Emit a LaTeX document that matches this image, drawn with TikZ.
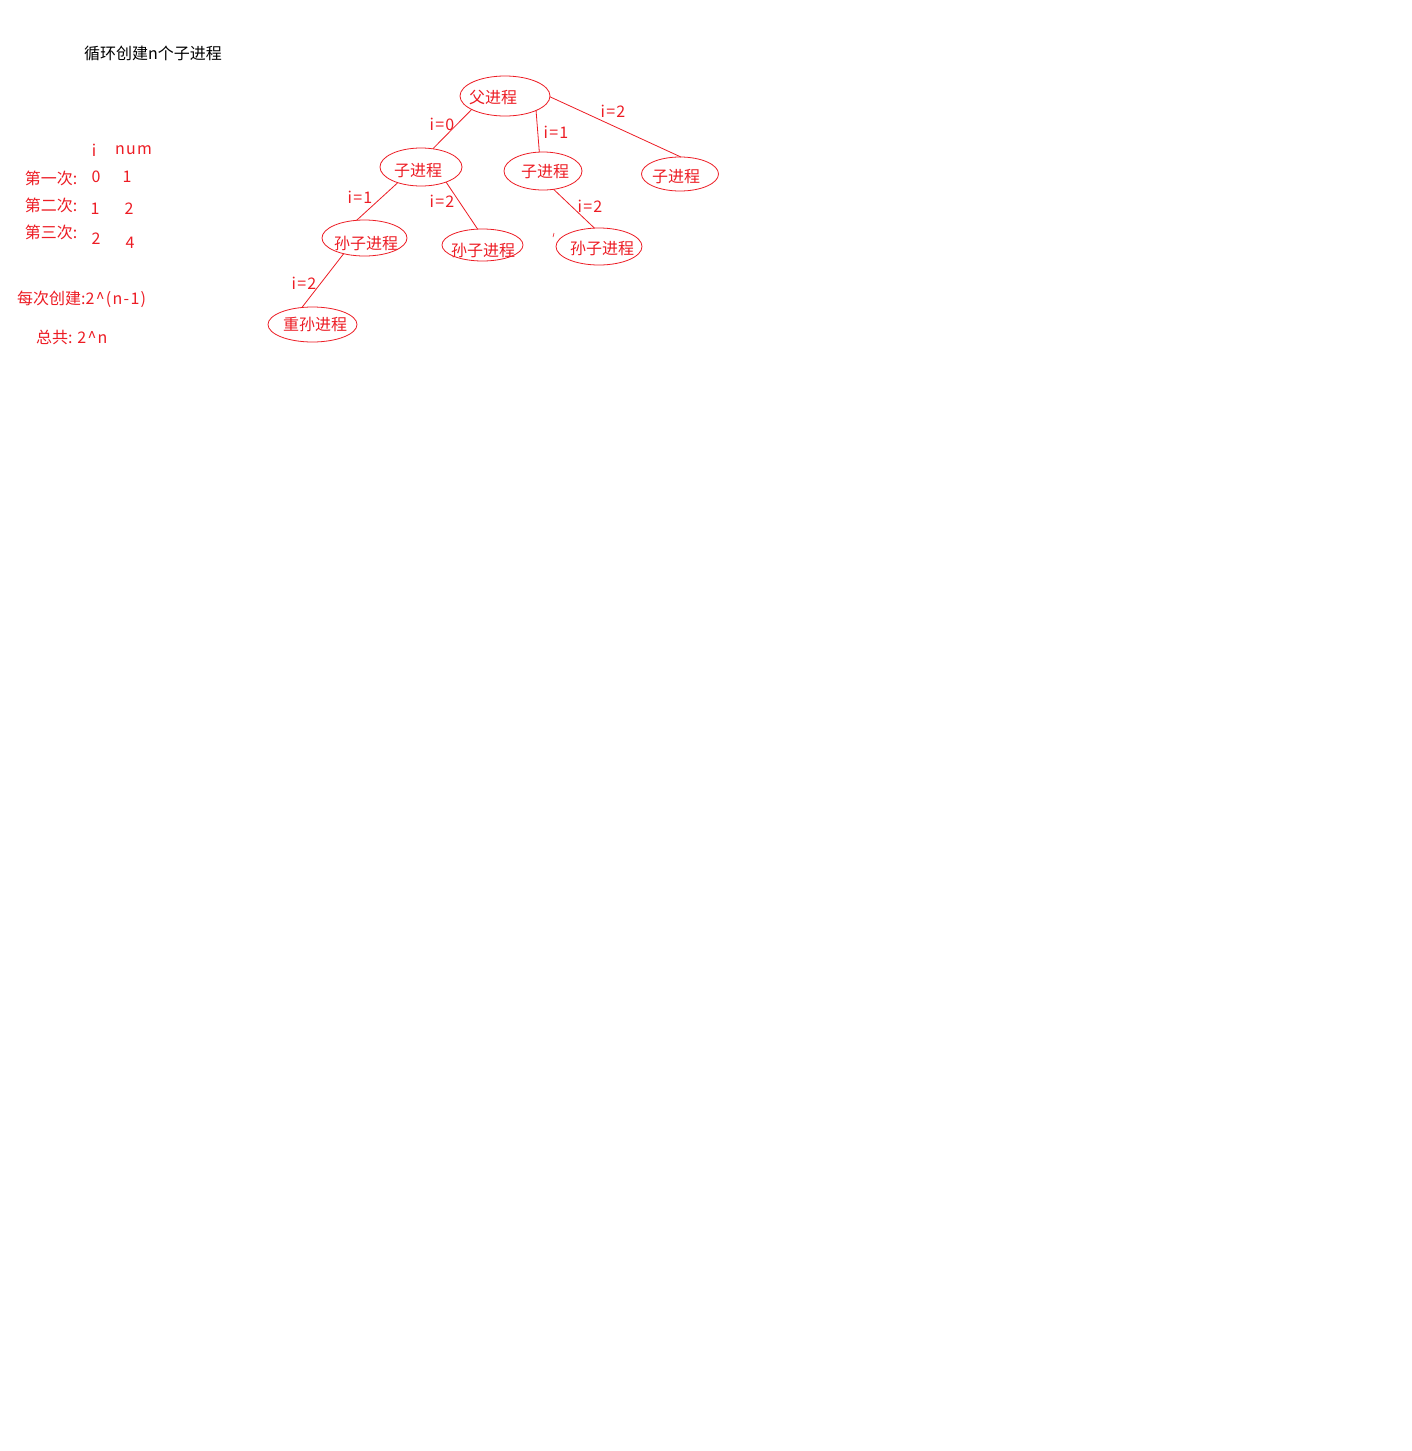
\documentclass[tikz,border=0pt]{standalone}
\usepackage{fontspec}
\setmainfont{Noto Sans CJK SC}
\newfontfamily\latfont[LetterSpace=8]{Noto Sans CJK SC}
\usetikzlibrary{shapes.geometric}
\definecolor{pred}{RGB}{237,28,36}
\tikzset{
  proc/.style={draw=pred, line width=0.8pt, shape=ellipse, inner sep=0pt, outer sep=0pt},
  ptext/.style={text=pred, inner sep=0pt, font=\fontsize{16}{19}\selectfont},
  lbl/.style={text=pred, inner sep=0pt, font=\fontsize{16}{19}\selectfont},
  nlbl/.style={text=pred, inner sep=0pt, font=\fontsize{16}{19}\latfont},
  edge/.style={draw=pred, line width=0.8pt},
}
\begin{document}
\begin{tikzpicture}[x=1pt,y=-1pt]
\fill[white] (0,0) rectangle (1411,1451);
\useasboundingbox (0,0) rectangle (1411,1451);

% title
\node[anchor=west, inner sep=0pt, font=\fontsize{16}{19}\selectfont] (title) at (84,53) {循环创建n个子进程};

% table
\node[nlbl] (hi) at (94,150) {i};
\node[nlbl] (hnum) at (133.5,150) {num};
\node[lbl] (r1) at (51,178) {第一次:};
\node[nlbl] (r1i) at (96,177) {0};
\node[nlbl] (r1n) at (127,177) {1};
\node[lbl] (r2) at (51,205) {第二次:};
\node[nlbl] (r2i) at (95,209) {1};
\node[nlbl] (r2n) at (129,209) {2};
\node[lbl] (r3) at (51,232) {第三次:};
\node[nlbl] (r3i) at (96,239) {2};
\node[nlbl] (r3n) at (130,243) {4};
\node[lbl, anchor=west] (each) at (17,299) {每次创建:{\latfont 2\^{}(n-1)}};
\node[lbl, anchor=west] (total) at (36,337) {总共: {\latfont 2\^{}n}};

% ellipses
\node[proc, minimum width=90pt, minimum height=40pt] (fa) at (505,96) {};
\node[proc, minimum width=82pt, minimum height=38pt] (c1) at (421,167) {};
\node[proc, minimum width=78pt, minimum height=38pt] (c2) at (543,171) {};
\node[proc, minimum width=77pt, minimum height=34pt] (c3) at (680,174) {};
\node[proc, minimum width=85pt, minimum height=36pt] (g1) at (364.5,238) {};
\node[proc, minimum width=81pt, minimum height=32pt] (g2) at (482.5,245) {};
\node[proc, minimum width=86pt, minimum height=37pt] (g3) at (599,246.5) {};
\node[proc, minimum width=89pt, minimum height=35pt] (gg) at (312.5,324.5) {};

% ellipse texts
\node[ptext] (tfa) at (493,97) {父进程};
\node[ptext] (tc1) at (418,171) {子进程};
\node[ptext] (tc2) at (545,172) {子进程};
\node[ptext] (tc3) at (676,177) {子进程};
\node[ptext] (tg1) at (366,243) {孙子进程};
\node[ptext] (tg2) at (483,250) {孙子进程};
\node[ptext] (tg3) at (602,248) {孙子进程};
\node[ptext] (tgg) at (315,324) {重孙进程};

% connectors
\draw[edge] (fa.202) -- (c1.57);
\draw[edge] (fa.335) -- (c2.101);
\draw[edge] (fa.359) -- (c3.87);
\draw[edge] (c1.214) -- (g1.114);
\draw[edge] (c1.329) -- (g2.107);
\draw[edge] (c2.300) -- (g3.104);
\draw[edge] (g1.217) -- (gg.122);

% small tick
\coordinate (tickA) at (553,237);
\coordinate (tickB) at (554,233);
\draw[edge, line width=0.6pt] (tickA) -- (tickB);

% edge labels
\node[nlbl] (l0) at (442,124) {i=0};
\node[nlbl] (l1) at (556,132) {i=1};
\node[nlbl] (l2) at (613,111) {i=2};
\node[nlbl] (l3) at (360,197) {i=1};
\node[nlbl] (l4) at (442,201) {i=2};
\node[nlbl] (l5) at (590,206) {i=2};
\node[nlbl] (l6) at (304,283) {i=2};
\end{tikzpicture}
\end{document}
